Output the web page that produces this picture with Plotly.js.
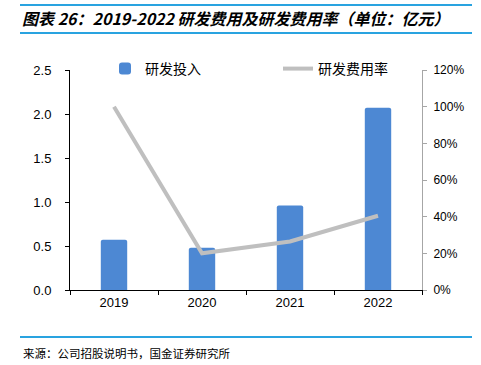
<!DOCTYPE html>
<html>
<head>
<meta charset="utf-8">
<script src="https://cdn.plot.ly/plotly-3.0.1.min.js"></script>
<style>
  html, body { margin: 0; padding: 0; background: #fff; }
  #chart { width: 481px; height: 365px; }
</style>
</head>
<body>
<div id="chart"></div>
<script>
const years = ["2019", "2020", "2021", "2022"];
const rdSpend = [0.57, 0.48, 0.96, 2.07];      // 研发投入（亿元）
const rdRate = [1.00, 0.20, 0.265, 0.405];     // 研发费用率
const seriesNames = ["研发投入", "研发费用率"];
const titleText = "图表 26：2019-2022 研发费用及研发费用率（单位：亿元）";
const sourceText = "来源：公司招股说明书，国金证券研究所";

const cjk = '"Noto Sans CJK SC", "Liberation Sans", sans-serif';
const num = '"Liberation Sans", Arial, sans-serif';

// paper coordinate helpers (plot area: x 70..422 px, y 70..290 px)
const px = v => (v - 70) / 352;
const py = v => (290 - v) / 220;

const traces = [
  {
    type: "bar",
    x: years,
    y: rdSpend,
    name: seriesNames[0],
    width: 0.3,
    marker: { color: "#4D88D3", cornerradius: 2 },
    yaxis: "y",
    hoverinfo: "x+y"
  },
  {
    type: "scatter",
    mode: "lines",
    x: years,
    y: rdRate,
    name: seriesNames[1],
    line: { color: "#BFBFBF", width: 4 },
    yaxis: "y2",
    hoverinfo: "x+y"
  }
];

const layout = {
  width: 481,
  height: 365,
  margin: { l: 70, r: 59, t: 70, b: 75 },
  paper_bgcolor: "#ffffff",
  plot_bgcolor: "#ffffff",
  showlegend: true,
  title: {
    text: "<b><i>" + titleText + "</i></b>",
    font: { family: cjk, size: 16, color: "#000" },
    x: 22 / 481, xanchor: "left", xref: "container",
    y: 1 - 19 / 365, yanchor: "middle", yref: "container"
  },
  legend: {
    orientation: "h",
    x: px(105), xanchor: "left",
    y: py(53), yanchor: "top",
    font: { family: cjk, size: 14, color: "#000" },
    itemwidth: 30,
    entrywidth: 128,
    bgcolor: "rgba(0,0,0,0)",
    traceorder: "normal"
  },
  xaxis: {
    type: "category",
    showline: true,
    linecolor: "#000",
    linewidth: 1,
    ticks: "outside",
    tickson: "boundaries",
    ticklen: 4,
    tickcolor: "#000",
    showgrid: false,
    zeroline: false,
    tickfont: { family: num, size: 13, color: "#000" },
    fixedrange: true
  },
  yaxis: {
    range: [0, 2.5],
    dtick: 0.5,
    tickformat: ".1f",
    showline: true,
    linecolor: "#000",
    linewidth: 1,
    ticks: "outside",
    ticklen: 4,
    tickcolor: "#000",
    showgrid: false,
    zeroline: false,
    tickfont: { family: num, size: 13, color: "#000" },
    ticklabelstandoff: 11,
    fixedrange: true
  },
  yaxis2: {
    overlaying: "y",
    side: "right",
    range: [0, 1.2],
    dtick: 0.2,
    tickformat: ".0%",
    showline: true,
    linecolor: "#A6A6A6",
    linewidth: 1,
    ticks: "outside",
    ticklen: 4,
    tickcolor: "#A6A6A6",
    showgrid: false,
    zeroline: false,
    tickfont: { family: num, size: 12, color: "#000" },
    ticklabelstandoff: 4,
    fixedrange: true
  },
  shapes: [
    { type: "line", xref: "paper", yref: "paper", x0: px(20), x1: px(472), y0: py(5), y1: py(5), line: { color: "#29A3E0", width: 2 } },
    { type: "line", xref: "paper", yref: "paper", x0: px(20), x1: px(472), y0: py(33), y1: py(33), line: { color: "#29A3E0", width: 2 } },
    { type: "line", xref: "paper", yref: "paper", x0: px(20), x1: px(472), y0: py(337), y1: py(337), line: { color: "#29A3E0", width: 2 } }
  ],
  annotations: [
    {
      text: sourceText,
      xref: "paper", yref: "paper",
      x: px(21), y: py(353),
      xanchor: "left", yanchor: "middle",
      showarrow: false,
      font: { family: cjk, size: 11.5, color: "#000" }
    }
  ]
};

Plotly.newPlot("chart", traces, layout, { displayModeBar: false, responsive: false });
</script>
</body>
</html>
